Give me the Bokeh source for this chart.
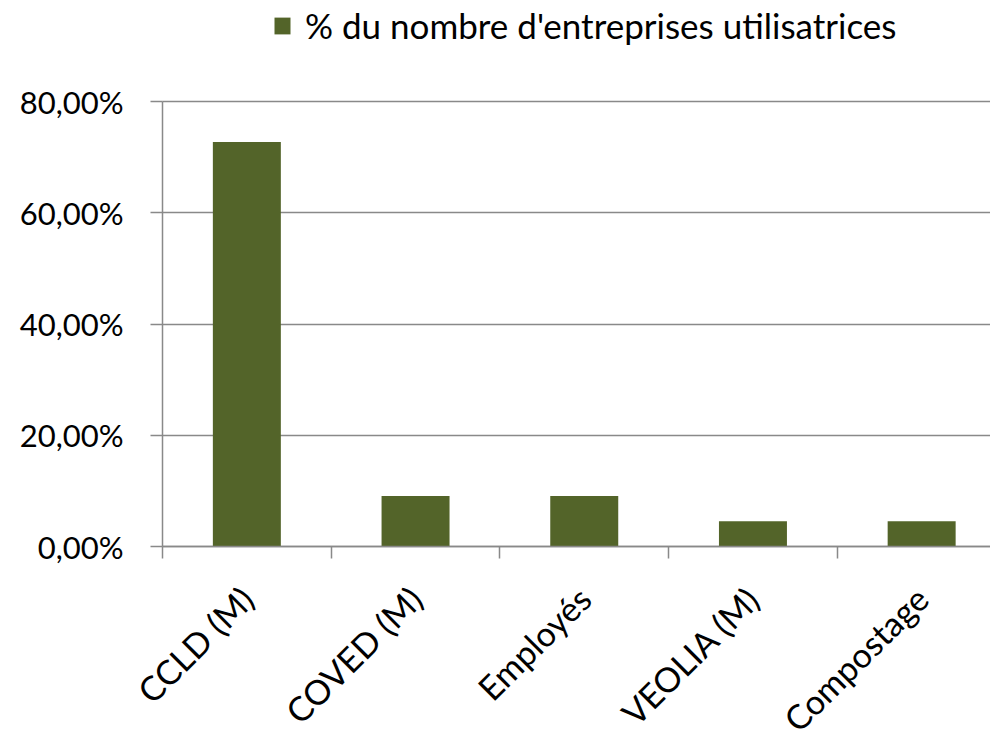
from math import pi
from bokeh.plotting import figure
from bokeh.models import Range1d, FixedTicker, Legend, LegendItem, ColumnDataSource
from bokeh.embed import file_html
from bokeh.resources import INLINE

categories = ["CCLD (M)", "COVED (M)", "Employés", "VEOLIA (M)", "Compostage"]
values = [72.73, 9.09, 9.09, 4.55, 4.55]
y_ticks = [0, 20, 40, 60, 80]
y_tick_labels = ["0,00%", "20,00%", "40,00%", "60,00%", "80,00%"]
series_name = "% du nombre d'entreprises utilisatrices"

FONT = "Lato"
BAR = "#536429"
GRID = "#898989"

x = [i + 0.5 for i in range(len(categories))]
src = ColumnDataSource(dict(x=x, top=values, cat=categories))

# layout: the frame fills the canvas; y axis at 162 px, 0 % at 546 px, 80 % at 101 px
W, H = 990, 736
cat_px = 168.7
px_per_unit = 445 / 80
x_lo = -162 / cat_px
x_hi = (W - 162) / cat_px
y_lo = -(H - 546) / px_per_unit
y_hi = 80 + 101 / px_per_unit

p = figure(width=W, height=H, output_backend="svg", toolbar_location=None,
           x_range=Range1d(x_lo, x_hi), y_range=Range1d(y_lo, y_hi),
           min_border_left=0, min_border_right=0, min_border_top=0,
           min_border_bottom=0)
p.outline_line_color = None
p.background_fill_color = "white"
p.border_fill_color = "white"

r = p.vbar(x="x", top="top", width=0.403, source=src,
           fill_color=BAR, line_color=None)

xa = p.xaxis[0]
xa.fixed_location = 0
xa.bounds = (0, len(categories))
xa.ticker = FixedTicker(ticks=x, minor_ticks=list(range(len(categories) + 1)))
xa.major_label_overrides = {xi: c for xi, c in zip(x, categories)}
xa.major_tick_out = 0
xa.major_tick_in = 0
xa.minor_tick_out = 12
xa.minor_tick_in = 0
xa.minor_tick_line_color = GRID
xa.minor_tick_line_width = 1.5
xa.axis_line_color = GRID
xa.axis_line_width = 1.5
xa.major_label_orientation = pi / 4
xa.major_label_text_font = FONT
xa.major_label_text_font_size = "34px"
xa.major_label_text_color = "black"
xa.major_label_standoff = 34

ya = p.yaxis[0]
ya.fixed_location = 0
ya.bounds = (0, 80)
ya.ticker = FixedTicker(ticks=y_ticks, minor_ticks=[])
ya.major_label_overrides = {t: l for t, l in zip(y_ticks, y_tick_labels)}
ya.major_tick_out = 12
ya.major_tick_in = 0
ya.major_tick_line_color = GRID
ya.major_tick_line_width = 1.5
ya.axis_line_color = GRID
ya.axis_line_width = 1.5
ya.major_label_text_font = FONT
ya.major_label_text_font_size = "31px"
ya.major_label_text_color = "black"
ya.major_label_standoff = 27

p.xgrid.visible = False
p.ygrid.ticker = FixedTicker(ticks=y_ticks, minor_ticks=[])
p.ygrid.bounds = (0, 80)
p.ygrid.cross_bounds = (0, len(categories))
p.ygrid.grid_line_color = GRID
p.ygrid.grid_line_width = 1.5

legend = Legend(items=[LegendItem(label=series_name, renderers=[r])],
                location=(272, 690), orientation="horizontal",
                border_line_color=None, background_fill_alpha=0,
                padding=0, margin=0, glyph_width=20, glyph_height=21,
                label_standoff=13, label_text_font=FONT,
                label_text_font_size="35px", label_text_color="black")
p.add_layout(legend)

open("out.html", "w").write(file_html(p, INLINE))
